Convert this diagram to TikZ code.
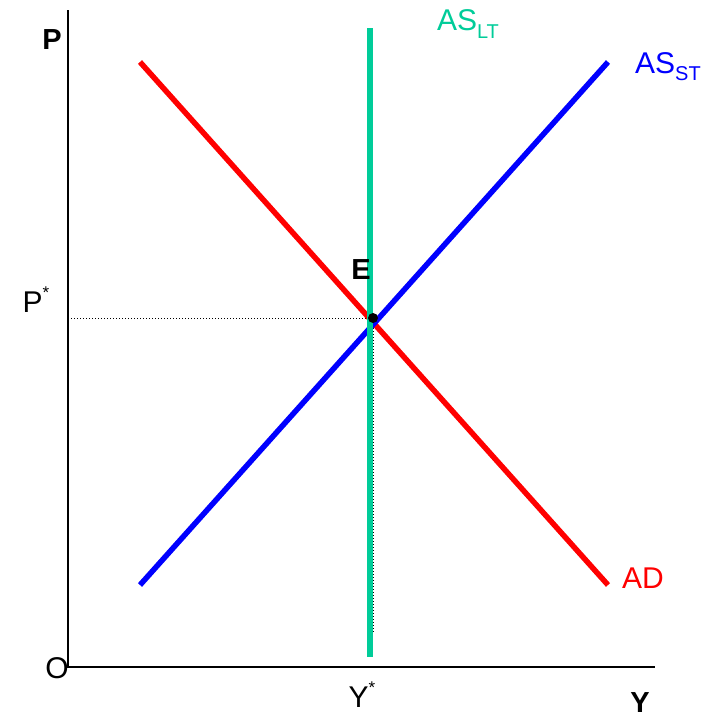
\documentclass[tikz,border=0pt]{standalone}
\usepackage{fontspec}
\setmainfont{Liberation Sans}
\usetikzlibrary{positioning}
\definecolor{lrgreen}{RGB}{0,204,153}
\newcommand{\subtxt}[1]{\raisebox{-0.45ex}{\fontsize{20}{21}\selectfont #1}}
\newcommand{\startxt}{\raisebox{0.9ex}{\fontsize{17}{17}\selectfont *}}

\begin{document}
\begin{tikzpicture}[x=1pt, y=-1pt,
    lbl/.style={font=\fontsize{30}{34}\selectfont, inner sep=0pt},
    axislbl/.style={lbl, font=\fontsize{29}{33}\selectfont\bfseries},
    axis/.style={line width=2.4pt, black},
    curve/.style={line width=5.5pt},
    guide/.style={line width=1pt, dotted}]
\useasboundingbox (0,0) rectangle (709,720);
% axes
\coordinate (orig) at (68,667);
\coordinate (ytop) at (68,10);
\coordinate (xend) at (655,667);
\draw[axis] (ytop) -- (orig) -- (xend);
% curves
\coordinate (ad1) at (140,62);  \coordinate (ad2) at (608,585);
\coordinate (as1) at (140,585); \coordinate (as2) at (608,62);
\coordinate (lt1) at (370,28);  \coordinate (lt2) at (370,657);
\coordinate (eq) at (373,318);
\coordinate (pstar) at (68,318); \coordinate (ystar) at (373,633);
\draw[guide] (pstar) -- (eq) -- (ystar);
\draw[curve, red] (ad1) -- (ad2);
\draw[curve, blue] (as1) -- (as2);
\draw[line width=6pt, lrgreen] (lt1) -- (lt2);
\fill (eq) circle (5pt);
% labels
\node[axislbl] (plbl) at (52,40) {P};
\node[axislbl] (ylbl) at (640,703) {Y};
\node[lbl] (olbl) at (57,668) {O};
\node[lbl] (pslbl) at (36,300) {P\startxt};
\node[lbl] (yslbl) at (362,695) {Y\startxt};
\node[axislbl] (elbl) at (361,270) {E};
\node[lbl, lrgreen] (ltlbl) at (468,24) {AS\subtxt{LT}};
\node[lbl, blue] (stlbl) at (668,67) {AS\subtxt{ST}};
\node[lbl, red] (adlbl) at (643,578) {AD};
\end{tikzpicture}
\end{document}
